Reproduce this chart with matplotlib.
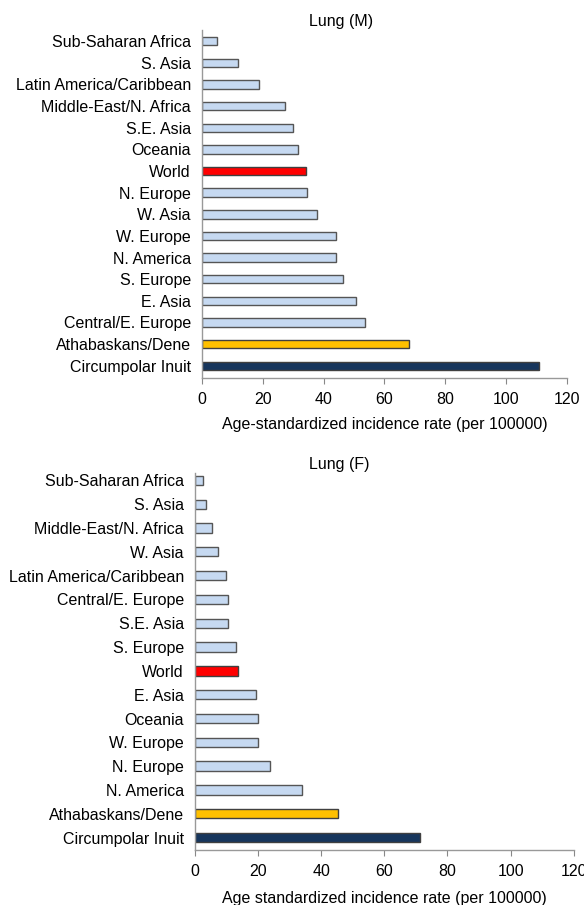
import matplotlib
matplotlib.use("Agg")
import matplotlib.pyplot as plt

plt.rcParams['font.family'] = ['Liberation Sans', 'DejaVu Sans']

# Lung (M)
male_regions = ["Sub-Saharan Africa", "S. Asia", "Latin America/Caribbean",
                "Middle-East/N. Africa", "S.E. Asia", "Oceania", "World",
                "N. Europe", "W. Asia", "W. Europe", "N. America", "S. Europe",
                "E. Asia", "Central/E. Europe", "Athabaskans/Dene", "Circumpolar Inuit"]
male_values = [4.9, 11.8, 18.8, 27.2, 29.8, 31.5, 34.3, 34.7, 37.8, 44.2, 44.1,
               46.5, 50.6, 53.7, 68.1, 110.8]

# Lung (F)
female_regions = ["Sub-Saharan Africa", "S. Asia", "Middle-East/N. Africa", "W. Asia",
                  "Latin America/Caribbean", "Central/E. Europe", "S.E. Asia",
                  "S. Europe", "World", "E. Asia", "Oceania", "W. Europe",
                  "N. Europe", "N. America", "Athabaskans/Dene", "Circumpolar Inuit"]
female_values = [2.5, 3.4, 5.3, 7.3, 9.7, 10.6, 10.5, 12.9, 13.6, 19.2, 20.1, 20.0,
                 23.7, 33.9, 45.3, 71.2]

xticks = [0, 20, 40, 60, 80, 100, 120]

LIGHT = "#c6d9f1"
SPECIAL = {"World": "#ff0000", "Athabaskans/Dene": "#ffc000",
           "Circumpolar Inuit": "#17365d"}

FS = 11.5


def colors_for(regions):
    return [SPECIAL.get(r, LIGHT) for r in regions]


def edges_for(regions):
    return ["#555555" if r not in SPECIAL else "#404040" for r in regions]


fig = plt.figure(figsize=(5.84, 9.05), dpi=100)

ax1 = fig.add_axes([0.3459, 0.582, 0.6245, 0.3849])
ax2 = fig.add_axes([0.3339, 0.0608, 0.6485, 0.4166])


def style(ax, regions, values, title, xlabel, ylim, title_y, labelpad):
    pos = list(range(len(regions)))
    ax.barh(pos, values, height=0.39, color=colors_for(regions),
            edgecolor=edges_for(regions), linewidth=1.0)
    ax.set_yticks(pos)
    ax.set_yticklabels(regions, fontsize=FS)
    ax.set_ylim(*ylim)
    ax.set_xlim(0, 120)
    ax.set_xticks(xticks)
    ax.set_xticklabels([str(t) for t in xticks], fontsize=FS)
    ax.tick_params(axis='y', length=0, pad=8)
    ax.tick_params(axis='x', length=4, width=0.8, color="#888888", pad=6)
    for s in ["top", "right"]:
        ax.spines[s].set_visible(False)
    for s in ["left", "bottom"]:
        ax.spines[s].set_color("#999999")
        ax.spines[s].set_linewidth(1.0)
    ax.set_xlabel(xlabel, fontsize=FS, labelpad=labelpad)
    ax.text(0.382, title_y, title, transform=ax.transAxes, ha='center',
            va='bottom', fontsize=FS)


style(ax1, male_regions, male_values, "Lung (M)",
      "Age-standardized incidence rate (per 100000)", (15.58, -0.52), 1.003, 7)
style(ax2, female_regions, female_values, "Lung (F)",
      "Age standardized incidence rate (per 100000)", (15.52, -0.31), 1.003, 9)

fig.savefig("out.png", dpi=100)
